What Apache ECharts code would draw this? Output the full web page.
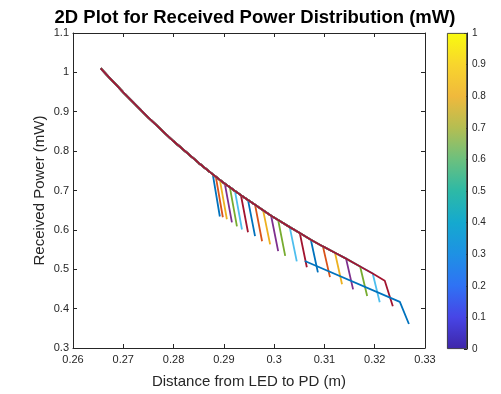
<!DOCTYPE html>
<html>
<head>
<meta charset="utf-8">
<script src="https://cdn.jsdelivr.net/npm/echarts@6/dist/echarts.min.js"></script>
<style>html,body{margin:0;padding:0;background:#fff;}#c{width:501px;height:394px;}</style>
</head>
<body>
<div id="c"></div>
<script>
// Shared upper path (distance m, power mW) before the drops
const envX = [0.2655, 0.270, 0.275, 0.280, 0.285];
const envY = [1.010, 0.949, 0.885, 0.825, 0.770];
// Top of each drop (on the upper curve)
const topX = [0.2878,0.2884,0.2892,0.2902,0.2912,0.2922,0.2934,0.2948,0.2962,0.2978,0.2994,0.3008,0.3031,0.3051,0.3073,0.3097,0.3121,0.3143,0.3171,0.3196,0.3220];
const topY = [0.741,0.735,0.727,0.717,0.708,0.699,0.688,0.676,0.664,0.650,0.636,0.625,0.607,0.592,0.575,0.558,0.542,0.527,0.507,0.489,0.471];
// Bottom of each drop
const botX = [0.2892,0.2898,0.2906,0.2916,0.2926,0.2936,0.2948,0.2962,0.2976,0.2992,0.3008,0.3022,0.3045,0.3065,0.3087,0.3111,0.3135,0.3157,0.3185,0.3210,0.3236];
const botY = [0.634,0.632,0.627,0.619,0.609,0.601,0.594,0.584,0.571,0.563,0.546,0.534,0.520,0.505,0.492,0.480,0.462,0.449,0.432,0.416,0.406];
// Lower separate path
const lowX = [0.3061, 0.3250, 0.3268];
const lowY = [0.521, 0.417, 0.361];
// Axis ticks
const xTicks = [0.26,0.27,0.28,0.29,0.30,0.31,0.32,0.33];
const yTicks = [0.3,0.4,0.5,0.6,0.7,0.8,0.9,1.0,1.1];
const cbTicks = [0,0.1,0.2,0.3,0.4,0.5,0.6,0.7,0.8,0.9,1];

const palette = ['#0072BD','#D95319','#EDB120','#7E2F8E','#77AC30','#4DBEEE','#A2142F'];
const parula = [
  [0.0,'#3E26A8'],[0.1,'#4745E6'],[0.2,'#2F72F4'],[0.3,'#1E91E4'],[0.4,'#15A9CF'],
  [0.5,'#2DB9A6'],[0.6,'#6CC07E'],[0.7,'#B4BE52'],[0.8,'#F0B93C'],[0.9,'#F8D52D'],[1.0,'#F9FB0E']
];

const series = [];
for (let i = 0; i < topX.length; i++) {
  const d = envX.map((x, k) => [x, envY[k]]);
  for (let j = 0; j <= i; j++) d.push([topX[j], topY[j]]);
  d.push([botX[i], botY[i]]);
  series.push({type:'line', xAxisIndex:0, yAxisIndex:0, data:d, symbol:'none',
    lineStyle:{width:1.8, color:palette[i % 7]}, silent:true});
}
series.push({type:'line', xAxisIndex:0, yAxisIndex:0, data: lowX.map((x,k)=>[x,lowY[k]]), symbol:'none',
  lineStyle:{width:1.8, color:palette[topX.length % 7]}, silent:true});

// colorbar as a bar spanning 0..1
const stops = parula.slice().reverse().map(s => ({offset: 1 - s[0], color: s[1]}));
series.push({type:'bar', xAxisIndex:2, yAxisIndex:2, data:[1], barWidth:'100%', silent:true,
  itemStyle:{color:new echarts.graphic.LinearGradient(0,0,0,1,stops), borderColor:'#262626', borderWidth:0.8}});

const axisCol = '#262626';
const ff = 'Liberation Sans, Arial, sans-serif';
const fmt2 = v => (+v.toFixed(2)).toString();
const fmt1 = v => (+v.toFixed(1)).toString();
const chart = echarts.init(document.getElementById('c'), null, {renderer:'canvas'});
chart.setOption({
  animation:false,
  backgroundColor:'#fff',
  title:{text:'2D Plot for Received Power Distribution (mW)', left:250, textAlign:'center', top:3,
    textStyle:{fontFamily:ff, fontWeight:'bold', fontSize:18.5, color:'#000'}},
  grid:[
    {left:73, top:33, width:352, height:316},
    {left:447, top:33, width:20, height:316}
  ],
  xAxis:[
    {type:'value', gridIndex:0, min:xTicks[0], max:xTicks[xTicks.length-1], interval:0.01, position:'bottom',
      name:'Distance from LED to PD (m)', nameLocation:'middle', nameGap:26, nameMoveOverlap:false,
      nameTextStyle:{fontFamily:ff, fontSize:15, color:axisCol},
      axisLine:{lineStyle:{color:axisCol, width:1}}, axisTick:{inside:true, length:4, lineStyle:{color:axisCol}},
      axisLabel:{formatter:fmt2, fontFamily:ff, fontSize:11, color:axisCol, margin:6},
      splitLine:{show:false}},
    {type:'value', gridIndex:0, min:xTicks[0], max:xTicks[xTicks.length-1], interval:0.01, position:'top',
      axisLine:{lineStyle:{color:axisCol, width:1}}, axisTick:{inside:true, length:4, lineStyle:{color:axisCol}},
      axisLabel:{show:false}, splitLine:{show:false}},
    {type:'category', gridIndex:1, data:['c'], show:false}
  ],
  yAxis:[
    {type:'value', gridIndex:0, min:yTicks[0], max:yTicks[yTicks.length-1], interval:0.1, position:'left',
      name:'Received Power (mW)', nameLocation:'middle', nameGap:26, nameRotate:90, nameMoveOverlap:false,
      nameTextStyle:{fontFamily:ff, fontSize:15, color:axisCol},
      axisLine:{lineStyle:{color:axisCol, width:1}}, axisTick:{inside:true, length:4, lineStyle:{color:axisCol}},
      axisLabel:{formatter:fmt1, fontFamily:ff, fontSize:11, color:axisCol, margin:4},
      splitLine:{show:false}},
    {type:'value', gridIndex:0, min:yTicks[0], max:yTicks[yTicks.length-1], interval:0.1, position:'right',
      axisLine:{show:true, lineStyle:{color:axisCol, width:1}}, axisTick:{show:true, inside:true, length:4, lineStyle:{color:axisCol}},
      axisLabel:{show:false}, splitLine:{show:false}},
    {type:'value', gridIndex:1, min:cbTicks[0], max:cbTicks[cbTicks.length-1], interval:0.1, position:'right',
      axisLine:{show:true, lineStyle:{color:axisCol, width:1}}, axisTick:{show:true, inside:true, length:3, lineStyle:{color:axisCol}},
      axisLabel:{formatter:fmt1, fontFamily:ff, fontSize:10, color:axisCol, margin:5},
      splitLine:{show:false}}
  ],
  series: series
});
</script>
</body>
</html>
